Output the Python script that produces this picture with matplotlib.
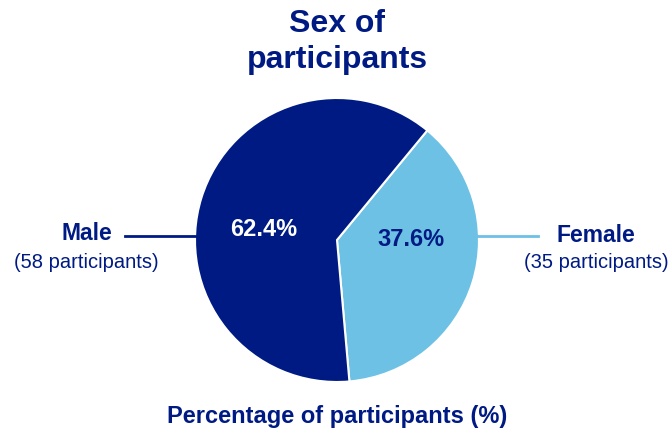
import matplotlib
matplotlib.use("Agg")
import matplotlib.pyplot as plt

categories = ["Female", "Male"]
counts = [35, 58]
pct_labels = ["37.6%", "62.4%"]
count_labels = ["(35 participants)", "(58 participants)"]
colors = ["#6cc1e5", "#001a84"]
navy = "#001a84"

plt.rcParams['font.family'] = ['Liberation Sans', 'DejaVu Sans']

fig = plt.figure(figsize=(6.71, 4.32), dpi=100)
ax = fig.add_axes([0, 0, 1, 1])
cx, cy, r = 337, 192, 142
wedges, _ = ax.pie(counts, colors=colors, startangle=50.5, counterclock=False,
                   center=(cx, cy), radius=r, frame=True,
                   wedgeprops=dict(edgecolor="white", linewidth=1.5))
ax.set_xlim(0, 671)
ax.set_ylim(0, 432)
ax.set_aspect('equal')
ax.axis('off')

# percentage labels
ax.text(264, 203, pct_labels[1], color="white", fontsize=17, fontweight="bold", ha="center", va="center")
ax.text(411, 193, pct_labels[0], color=navy, fontsize=17, fontweight="bold", ha="center", va="center")

# leader lines
ax.plot([125, cx - r], [196, 196], color=navy, lw=2)
ax.plot([cx + r - 2, 538], [196, 196], color=colors[0], lw=2)

# category labels
ax.text(87, 198, categories[1], color=navy, fontsize=16.5, fontweight="bold", ha="center", va="center")
ax.text(86, 170, count_labels[1], color=navy, fontsize=14.5, ha="center", va="center")
ax.text(596, 196, categories[0], color=navy, fontsize=16.5, fontweight="bold", ha="center", va="center")
ax.text(596, 170, count_labels[0], color=navy, fontsize=14.5, ha="center", va="center")

# title and bottom label
ax.text(337, 390, "Sex of\nparticipants", color=navy, fontsize=23, fontweight="bold",
        ha="center", va="center", linespacing=1.25)
ax.text(337, 16, "Percentage of participants (%)", color=navy, fontsize=17, fontweight="bold",
        ha="center", va="center")

fig.savefig("out.png", dpi=100)
